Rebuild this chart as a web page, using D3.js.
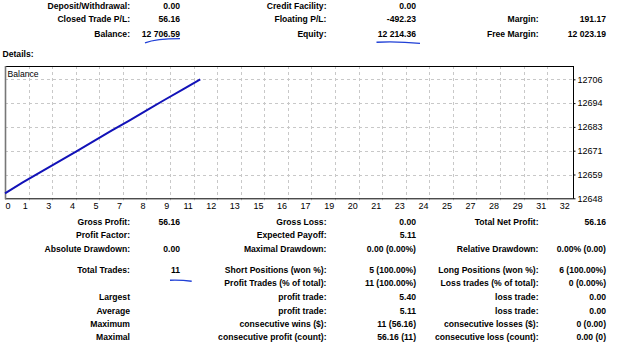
<!DOCTYPE html>
<html><head><meta charset="utf-8">
<script src="https://cdn.jsdelivr.net/npm/d3@7"></script>
<style>
html,body{margin:0;padding:0;background:#fff;}
svg{display:block;}
</style></head>
<body>
<script>
// ---- data ----
const tradeIndex = [0,1,2,3,4,5,6,7,8,9,10,11];
const balance = [12650.43,12655.83,12660.88,12665.98,12670.96,12676.16,12681.28,12686.30,12691.45,12696.53,12701.49,12706.59];
const xTickLabels = ["0","1","3","4","5","7","8","9","11","12","13","15","16","17","19","20","21","23","24","25","27","28","29","31","32"];
const yTickLabels = ["12648","12659","12671","12683","12694","12706"];
const yDomain = [12648, 12706.6];
const xDomain = [0, 32];
const seriesName = "Balance";

const topLabels1 = ["Deposit/Withdrawal:","Closed Trade P/L:","Balance:"];
const topValues1 = ["0.00","56.16","12 706.59"];
const topLabels2 = ["Credit Facility:","Floating P/L:","Equity:"];
const topValues2 = ["0.00","-492.23","12 214.36"];
const topLabels3 = ["","Margin:","Free Margin:"];
const topValues3 = ["","191.17","12 023.19"];

const botLabels1 = ["Gross Profit:","Profit Factor:","Absolute Drawdown:","Total Trades:","","Largest","Average","Maximum","Maximal"];
const botValues1 = ["56.16","","0.00","11","","","","",""];
const botLabels2 = ["Gross Loss:","Expected Payoff:","Maximal Drawdown:","Short Positions (won %):","Profit Trades (% of total):","profit trade:","profit trade:","consecutive wins ($):","consecutive profit (count):"];
const botValues2 = ["0.00","5.11","0.00 (0.00%)","5 (100.00%)","11 (100.00%)","5.40","5.11","11 (56.16)","56.16 (11)"];
const botLabels3 = ["Total Net Profit:","","Relative Drawdown:","Long Positions (won %):","Loss trades (% of total):","loss trade:","loss trade:","consecutive losses ($):","consecutive loss (count):"];
const botValues3 = ["56.16","","0.00% (0.00)","6 (100.00%)","0 (0.00%)","0.00","0.00","0 (0.00)","0.00 (0)"];

// ---- layout ----
const W = 625, H = 345;
const FONT = "'Liberation Sans', Arial, sans-serif";
const svg = d3.select("body").append("svg").attr("width", W).attr("height", H)
  .style("font-family", FONT);

const L = 5, R = 573, T = 66, B = 198.3;
const x = d3.scaleLinear().domain(xDomain).range([L, R]);
const y = d3.scaleLinear().domain(yDomain).range([B, 79.3]);
const gridIdx = d3.scaleLinear().domain([0, 24.1]).range([L, R]);

function textCol(labels, baselines, xr, bold) {
  labels.forEach((t, i) => {
    if (!t) return;
    svg.append("text").attr("x", xr).attr("y", baselines[i])
      .attr("text-anchor", "end").attr("font-size", 8.6)
      .attr("font-weight", bold ? "bold" : "normal").attr("fill", "#000").text(t);
  });
}

// top summary
const topBase = [9.3, 21.8, 36.6];
textCol(topLabels1, topBase, 130, true);
textCol(topValues1, topBase, 180, true);
textCol(topLabels2, topBase, 326.5, true);
textCol(topValues2, topBase, 416, true);
textCol(topLabels3, topBase, 538.5, true);
textCol(topValues3, topBase, 606, true);

svg.append("text").attr("x", 2.5).attr("y", 57.3).attr("font-size", 8.6)
  .attr("font-weight", "bold").text("Details:");

// chart grid
const g = svg.append("g");
const yTickVals = yTickLabels.map((d, i) => yDomain[0] + i * (yDomain[1] - yDomain[0]) / (yTickLabels.length - 1));
g.selectAll("line.hg").data(yTickVals.slice(1)).join("line")
  .attr("x1", L).attr("x2", R).attr("y1", d => Math.round(y(d)) + 0.5).attr("y2", d => Math.round(y(d)) + 0.5)
  .attr("stroke", "#c8c8c8").attr("stroke-dasharray", "3,3");
const vIdx = d3.range(1, xTickLabels.length - 1);
g.selectAll("line.vg").data(vIdx).join("line")
  .attr("x1", d => Math.round(gridIdx(d)) + 0.5).attr("x2", d => Math.round(gridIdx(d)) + 0.5)
  .attr("y1", T).attr("y2", B + 2)
  .attr("stroke", "#c8c8c8").attr("stroke-dasharray", "3,3");

// frame
g.append("line").attr("x1", L).attr("x2", R + 0.5).attr("y1", T + 0.5).attr("y2", T + 0.5).attr("stroke", "#000");
g.append("line").attr("x1", R + 0.5).attr("x2", R + 0.5).attr("y1", T).attr("y2", B + 0.5).attr("stroke", "#000");
g.append("line").attr("x1", L).attr("x2", R + 0.5).attr("y1", B + 0.5).attr("y2", B + 0.5).attr("stroke", "#000");
g.append("line").attr("x1", L + 0.5).attr("x2", L + 0.5).attr("y1", T).attr("y2", B + 1).attr("stroke", "#777").attr("stroke-width", 1.6);

// y axis
const yAxis = d3.axisRight(y).tickValues(yTickVals).tickSize(2).tickPadding(2)
  .tickFormat((d, i) => yTickLabels[i]);
const ya = svg.append("g").attr("transform", `translate(${R + 0.5},0)`).call(yAxis);
ya.select(".domain").remove();
ya.selectAll("text").attr("font-size", 9).attr("font-family", FONT).attr("fill", "#000");
ya.selectAll("line").attr("stroke", "#000");

// x labels
svg.selectAll("text.xl").data(xTickLabels).join("text")
  .attr("x", (d, i) => i === 0 ? L + 0.5 : gridIdx(i) - 0.8)
  .attr("y", 208.6)
  .attr("text-anchor", (d, i) => i === 0 ? "start" : "end")
  .attr("font-size", 9).attr("fill", "#000").text(d => d);

// series
svg.append("text").attr("x", 7.5).attr("y", 76.5).attr("font-size", 8.6).text(seriesName);
const line = d3.line().x((d, i) => x(tradeIndex[i])).y(d => y(d));
svg.append("path").datum(balance).attr("d", line)
  .attr("fill", "none").attr("stroke", "#1212b8").attr("stroke-width", 2);

// bottom report
const botBase = [224.6, 238, 251.6, 273, 286.4, 300.3, 313.7, 327.3, 340.4];
textCol(botLabels1, botBase, 130, true);
textCol(botValues1, botBase, 180, true);
textCol(botLabels2, botBase, 326.5, true);
textCol(botValues2, botBase, 416, true);
textCol(botLabels3, botBase, 538.5, true);
textCol(botValues3, botBase, 606, true);

// hand-drawn annotations
const pen = "#1f3fd6";
svg.append("path").attr("d", "M145,42.8 Q156,38.6 180,38.6").attr("fill", "none").attr("stroke", pen).attr("stroke-width", 1.4);
svg.append("path").attr("d", "M376.5,42.2 Q398,41.2 420,43.4").attr("fill", "none").attr("stroke", pen).attr("stroke-width", 1.4);
svg.append("path").attr("d", "M170,280.2 Q181,279.8 191.7,281.2").attr("fill", "none").attr("stroke", pen).attr("stroke-width", 1.4);
</script>
</body></html>
